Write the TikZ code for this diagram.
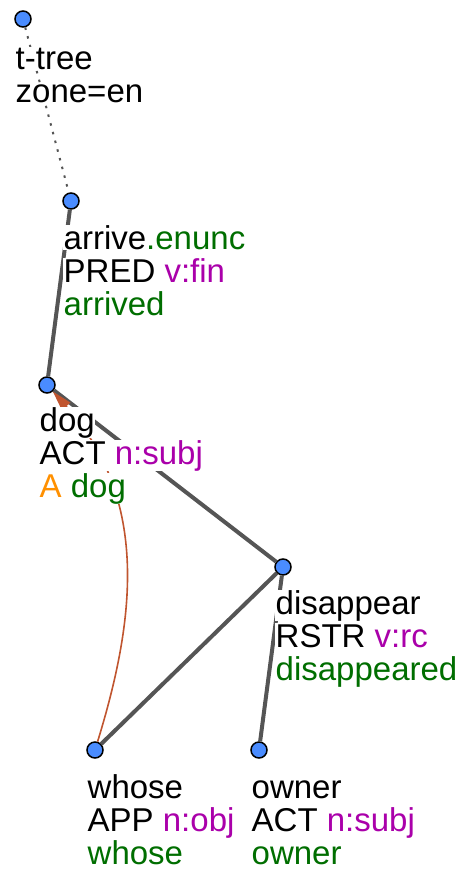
\documentclass[tikz,border=0pt]{standalone}
\usepackage{fontspec}
\setmainfont{Liberation Sans}
\usetikzlibrary{arrows.meta}
\definecolor{nodeblue}{HTML}{4A8CFF}
\definecolor{edgegray}{HTML}{555555}
\definecolor{funcpurple}{HTML}{AA00AA}
\definecolor{formgreen}{HTML}{006E00}
\definecolor{corefred}{HTML}{C0552F}
\definecolor{origorange}{HTML}{FF9000}
% one text line on a white ground
\newcommand{\tline}[1]{{\fboxsep=0.5pt\colorbox{white}{#1}}}
\tikzset{
  tnode/.style={circle, draw=black, line width=1.5pt, fill=nodeblue, minimum size=16pt, inner sep=0pt},
  tedge/.style={edgegray, line width=4pt},
  rootedge/.style={edgegray, line width=2pt, dash pattern=on 2.5pt off 6.5pt},
  coref/.style={corefred, line width=1.6pt, -{Triangle[length=20pt,width=11pt]}},
  tlabel/.style={anchor=base west, align=left, inner sep=0pt, font=\fontsize{33}{33}\selectfont},
}
\begin{document}
\begin{tikzpicture}[x=1pt, y=-1pt]
                    \useasboundingbox (0,0) rectangle (463,876);
                    % Nodes
                    \node[tnode] (root) at (23,19) {};
                    \node[tnode] (arrive) at (71,201) {};
                    \node[tnode] (dog) at (47,385) {};
                    \node[tnode] (disappear) at (283,567) {};
                    \node[tnode] (whose) at (95,750) {};
                    \node[tnode] (owner) at (259,750) {};
                    % Edges
                    \draw[rootedge] (root) -- (arrive);
                    \draw[tedge] (arrive) -- (dog);
                    \draw[tedge] (dog) -- (disappear);
                    \draw[tedge] (disappear) -- (whose);
                    \draw[tedge] (disappear) -- (owner);
                    % Coreference
                    \draw[coref] (whose) .. controls (135,620) and (150,500) .. (dog);
                    % Labels (anchored at the base of the last line)
                    \node[tlabel] (roottxt) at ([xshift=-8pt,yshift=-83pt]root.center)
                        {\tline{t-tree}\\\tline{zone=en}};
                    \node[tlabel] (arrivetxt) at ([xshift=-8pt,yshift=-114pt]arrive.center)
                        {\tline{arrive\textcolor{formgreen}{.enunc}}\\\tline{PRED \textcolor{funcpurple}{v:fin}}\\\tline{\textcolor{formgreen}{arrived}}};
                    \node[tlabel] (dogtxt) at ([xshift=-8pt,yshift=-112pt]dog.center)
                        {\tline{dog}\\\tline{ACT \textcolor{funcpurple}{n:subj}}\\\tline{\textcolor{origorange}{A} \textcolor{formgreen}{dog}}};
                    \node[tlabel] (disappeartxt) at ([xshift=-8pt,yshift=-113pt]disappear.center)
                        {\tline{disappear}\\\tline{RSTR \textcolor{funcpurple}{v:rc}}\\\tline{\textcolor{formgreen}{disappeared}}};
                    \node[tlabel] (whosetxt) at ([xshift=-8pt,yshift=-114pt]whose.center)
                        {\tline{whose}\\\tline{APP \textcolor{funcpurple}{n:obj}}\\\tline{\textcolor{formgreen}{whose}}};
                    \node[tlabel] (ownertxt) at ([xshift=-8pt,yshift=-114pt]owner.center)
                        {\tline{owner}\\\tline{ACT \textcolor{funcpurple}{n:subj}}\\\tline{\textcolor{formgreen}{owner}}};
                \end{tikzpicture}
\end{document}
